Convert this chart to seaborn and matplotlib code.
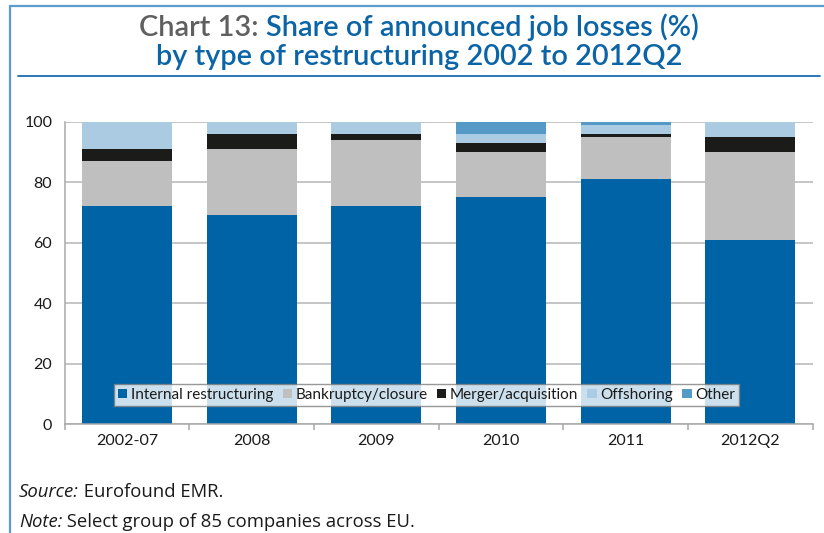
import matplotlib
matplotlib.use('Agg')
import matplotlib.pyplot as plt
from matplotlib.patches import Patch
from matplotlib.lines import Line2D
from matplotlib.ticker import FixedLocator
import pandas as pd
import seaborn as sns

# data (% of announced job losses)
periods = ['2002-07', '2008', '2009', '2010', '2011', '2012Q2']
internal = [72, 69, 72, 75, 81, 61]
bankruptcy = [15, 22, 22, 15, 14, 29]
merger = [4, 5, 2, 3, 1, 5]
offshoring = [9, 4, 4, 3, 3, 5]
other = [0, 0, 0, 4, 1, 0]
series_names = ['Internal restructuring', 'Bankruptcy/closure', 'Merger/acquisition', 'Offshoring', 'Other']
colours = ['#0063a6', '#bfbfbf', '#1b1b1a', '#abcbe3', '#5599c7']
y_ticks = [0, 20, 40, 60, 80, 100]

sns.set_theme(style='white')
plt.rcParams['font.family'] = ['Lato', 'DejaVu Sans']

shares = pd.DataFrame({'Internal restructuring': internal, 'Bankruptcy/closure': bankruptcy,
                       'Merger/acquisition': merger, 'Offshoring': offshoring, 'Other': other},
                      index=periods)
stacked = shares.cumsum(axis=1)
# stacked bars: draw running totals from the top layer down

fig = plt.figure(figsize=(8.24, 5.33), dpi=100)
ax = fig.add_axes([64.7 / 824, 1 - 424 / 533, 748 / 824, 302.3 / 533])

for name, col in reversed(list(zip(series_names, colours))):
    layer = pd.DataFrame({'period': periods, 'value': stacked[name].values})
    sns.barplot(data=layer, x='period', y='value', color=col, saturation=1,
                width=0.72, linewidth=0, ax=ax)

ax.set_xlim(-0.5, 5.5)
ax.set_ylim(0, 100)
ax.set_xlabel('')
ax.set_ylabel('')
ax.set_yticks(y_ticks)
ax.yaxis.grid(True, color='#b5b5b5', linewidth=1.1)
ax.set_axisbelow(True)
for s in ['top', 'right']:
    ax.spines[s].set_visible(False)
for s in ['left', 'bottom']:
    ax.spines[s].set_color('#a8a8a8')
    ax.spines[s].set_linewidth(1.1)
ax.tick_params(axis='y', length=0, pad=9, labelsize=11.5, labelcolor='#1a1a1a')
ax.tick_params(axis='x', which='major', length=0, pad=7, labelsize=11.5, labelcolor='#1a1a1a')
ax.xaxis.set_minor_locator(FixedLocator([i - 0.5 for i in range(len(periods) + 1)]))
ax.tick_params(axis='x', which='minor', bottom=True, length=4, width=1.1, color='#a8a8a8')

handles = [Patch(facecolor=c, edgecolor='none') for c in colours]
leg = fig.legend(handles, series_names, loc='center', ncol=5,
                 bbox_to_anchor=(426.7 / 824, 1 - 395 / 533), fontsize=11,
                 frameon=True, fancybox=False, edgecolor='#7f7f7f',
                 handlelength=0.6, handleheight=0.6, handletextpad=0.25,
                 columnspacing=0.6, borderpad=0.25, borderaxespad=0)
leg.get_frame().set_linewidth(1.0)
for t in leg.get_texts():
    t.set_color('#1a1a1a')

renderer = fig.canvas.get_renderer()


def line_of_pieces(pieces, x, y, ha='center'):
    # draw several differently styled text pieces side by side on one baseline
    texts = [fig.text(0, y, s, va='baseline', **kw) for s, kw in pieces]
    widths = [t.get_window_extent(renderer).width for t in texts]
    total = sum(widths)
    start = x * 824 - (total / 2 if ha == 'center' else 0)
    for t, w in zip(texts, widths):
        t.set_x(start / 824)
        start += w


title_kw = dict(fontsize=20.8, fontweight='semibold', family=['Lato', 'DejaVu Sans'])
line_of_pieces([('Chart 13: ', dict(color='#5f5f5f', **title_kw)),
                ('Share of announced job losses (%)', dict(color='#0a64a6', **title_kw))],
               419 / 824, 1 - 36 / 533)
line_of_pieces([('by type of restructuring 2002 to 2012Q2', dict(color='#0a64a6', **title_kw))],
               419 / 824, 1 - 65 / 533)

foot_kw = dict(fontsize=13.3, color='#1a1a1a', family=['Open Sans', 'DejaVu Sans'])
line_of_pieces([('Source:', dict(style='italic', **foot_kw)), (' Eurofound EMR.', foot_kw)],
               19 / 824, 1 - 497 / 533, ha='left')
line_of_pieces([('Note:', dict(style='italic', **foot_kw)),
                (' Select group of 85 companies across EU.', foot_kw)],
               19 / 824, 1 - 527 / 533, ha='left')

# frame lines of the publication box
fig.add_artist(Line2D([10 / 824, 1], [1 - 6 / 533, 1 - 6 / 533], color='#5a9bd0', linewidth=1.6))
fig.add_artist(Line2D([10 / 824, 10 / 824], [0, 1 - 6 / 533], color='#5a9bd0', linewidth=1.6))
fig.add_artist(Line2D([18 / 824, 820 / 824], [1 - 76 / 533, 1 - 76 / 533], color='#1a6cb2', linewidth=1.3))

fig.savefig('out.png', dpi=100)
